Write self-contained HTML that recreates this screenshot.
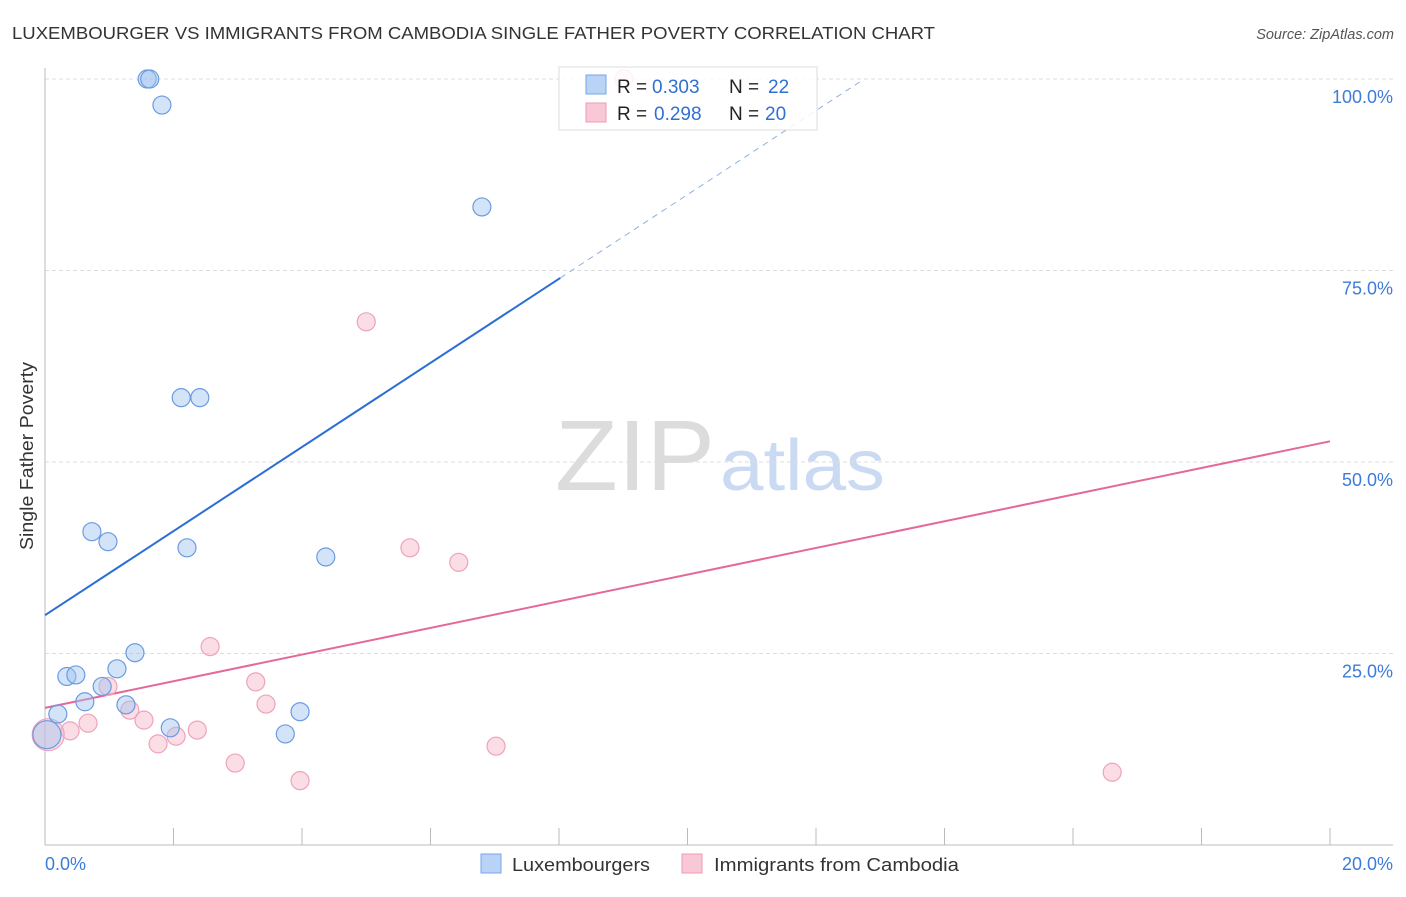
<!DOCTYPE html>
<html><head><meta charset="utf-8"><style>
body{margin:0;background:#fff;font-family:"Liberation Sans",sans-serif;}
svg text{font-family:"Liberation Sans",sans-serif;}
</style></head><body>
<svg id="chart" width="1406" height="892" xmlns="http://www.w3.org/2000/svg">
<text x="12" y="39" font-size="17.5" fill="#333" textLength="923" lengthAdjust="spacingAndGlyphs">LUXEMBOURGER VS IMMIGRANTS FROM CAMBODIA SINGLE FATHER POVERTY CORRELATION CHART</text>
<text x="1394" y="39" font-size="14.5" fill="#555" text-anchor="end" font-style="italic">Source: ZipAtlas.com</text>
<text transform="translate(33,456) rotate(-90)" font-size="18" fill="#333" text-anchor="middle" textLength="188" lengthAdjust="spacingAndGlyphs">Single Father Poverty</text>
<text x="555" y="490" font-size="100" fill="#dcdcdc" font-family="Liberation Serif" textLength="160" lengthAdjust="spacingAndGlyphs">ZIP</text>
<text x="720" y="490" font-size="72" fill="#c9daf2" textLength="165" lengthAdjust="spacingAndGlyphs">atlas</text>
<g id="grid"></g><g id="axes"></g><g id="trends"></g><g id="points"></g>
<g>
<rect x="559" y="67" width="258" height="63" fill="rgba(255,255,255,0.85)" stroke="#ddd"/>
<rect x="586" y="75" width="20" height="19" fill="#b8d3f5" stroke="#7aa6e6"/>
<rect x="586" y="103" width="20" height="19" fill="#f9c8d6" stroke="#ee9db5"/>
<text x="617" y="93" font-size="19" fill="#222">R =</text><text x="652" y="93" font-size="19" fill="#3070d0">0.303</text>
<text x="729" y="93" font-size="19" fill="#222">N =</text><text x="768" y="93" font-size="19" fill="#3070d0">22</text>
<text x="617" y="120" font-size="19" fill="#222">R =</text><text x="654" y="120" font-size="19" fill="#3070d0">0.298</text>
<text x="729" y="120" font-size="19" fill="#222">N =</text><text x="765" y="120" font-size="19" fill="#3070d0">20</text>
</g>
<g>
<rect x="481" y="854" width="20" height="19" fill="#b8d3f5" stroke="#7aa6e6"/>
<text x="512" y="871" font-size="18" fill="#333" textLength="138" lengthAdjust="spacingAndGlyphs">Luxembourgers</text>
<rect x="682" y="854" width="20" height="19" fill="#f9c8d6" stroke="#ee9db5"/>
<text x="714" y="871" font-size="18" fill="#333" textLength="245" lengthAdjust="spacingAndGlyphs">Immigrants from Cambodia</text>
</g>
</svg>
<script>
const xTicks=[0,20];
const yTicks=[25,50,75,100];
const luxX=[1.59,1.63,1.82,6.80,2.12,2.41,0.73,0.98,2.21,4.37,1.40,1.12,0.34,0.48,0.89,0.62,1.26,0.20,3.97,1.95,3.74,0.03];
const luxY=[100,100,96.6,83.3,58.4,58.4,40.9,39.6,38.8,37.6,25.1,23.0,22.0,22.2,20.7,18.7,18.3,17.1,17.4,15.3,14.5,14.4];
const luxR=[9,9,9,9,9,9,9,9,9,9,9,9,9,9,9,9,9,9,9,9,9,14];
const camX=[9.01,5.00,5.68,6.44,2.57,3.28,0.98,3.44,1.32,0.67,1.54,0.39,2.37,2.04,1.76,2.96,3.97,7.02,16.61,0.05];
const camY=[100,68.3,38.8,36.9,25.9,21.3,20.7,18.4,17.6,15.9,16.3,14.9,15.0,14.2,13.2,10.7,8.4,12.9,9.5,14.4];
const camR=[9,9,9,9,9,9,9,9,9,9,9,9,9,9,9,9,9,9,9,16];
const luxTrend=[30.0,5.49]; // intercept, slope
const camTrend=[17.9,1.74];
const NS="http://www.w3.org/2000/svg";
const X=v=>45+v/20*1285, Y=v=>845-v/100*766;
function mk(t,a,p){const e=document.createElementNS(NS,t);for(const k in a)e.setAttribute(k,a[k]);document.getElementById(p).appendChild(e);return e;}
yTicks.forEach(t=>{
 const g=mk('line',{x1:45,x2:1393,y1:Y(t),y2:Y(t),stroke:'#ddd','stroke-dasharray':'4,3'},'grid');
 
 
 const l=mk('text',{x:1393,y:Y(t)+24,'font-size':18,fill:'#3d7bd9','text-anchor':'end'},'grid');
 l.textContent=t.toFixed(1)+'%';
 
 
});
const ax=mk('line',{x1:45,x2:1393,y1:845,y2:845,stroke:'#bbb'},'axes');


const ay=mk('line',{x1:45,x2:45,y1:68,y2:845,stroke:'#bbb'},'axes');


for(let i=0;i<=10;i++){
 const tk=mk('line',{x1:X(i*2),x2:X(i*2),y1:828,y2:845,stroke:'#bbb'},'axes');
 
 
}
xTicks.forEach((t,i)=>{
 const l=mk('text',{x:i?1393:45,y:870,'font-size':18,fill:'#3d7bd9','text-anchor':i?'end':'start'},'axes');
 l.textContent=t.toFixed(1)+'%';
 
 
});
const lb=luxTrend, cb=camTrend;
let t1=mk('line',{x1:X(0),y1:Y(lb[0]),x2:X(8.02),y2:Y(lb[0]+lb[1]*8.02),stroke:'#2b6fd6','stroke-width':2},'trends');


const xe=(100-lb[0])/lb[1];
let t2=mk('line',{x1:X(8.02),y1:Y(lb[0]+lb[1]*8.02),x2:X(xe),y2:Y(100),stroke:'#8fb0e0','stroke-width':1,'stroke-dasharray':'6,5'},'trends');


let t3=mk('line',{x1:X(0),y1:Y(cb[0]),x2:X(20),y2:Y(cb[0]+cb[1]*20),stroke:'#e5689a','stroke-width':2},'trends');


camX.forEach((v,i)=>{
 const c=mk('circle',{cx:X(v),cy:Y(camY[i]),r:camR[i],fill:'rgba(246,180,200,0.45)',stroke:'#eea3bb','stroke-width':1.2},'points');
 
 
});
luxX.forEach((v,i)=>{
 const c=mk('circle',{cx:X(v),cy:Y(luxY[i]),r:luxR[i],fill:'rgba(160,195,240,0.45)',stroke:'#6b9be0','stroke-width':1.2},'points');
 
 
});
</script>
</body></html>
